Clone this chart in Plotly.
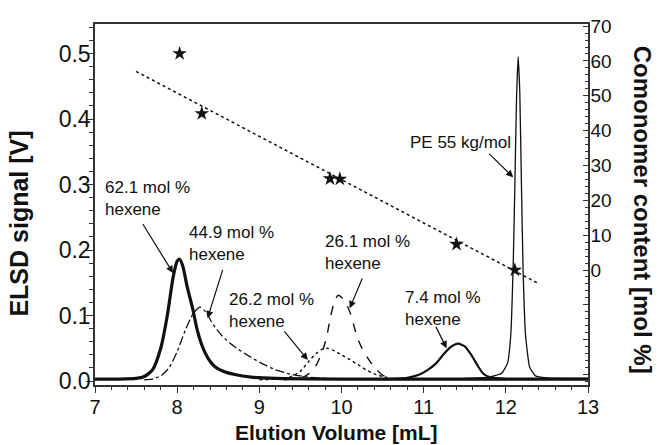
import plotly.graph_objects as go

# ---- data ----
x_621 = [7.0, 7.3, 7.5, 7.6, 7.7, 7.8, 7.88, 7.95, 8.0, 8.03, 8.07, 8.12, 8.19, 8.24, 8.3, 8.38, 8.46, 8.56, 8.7, 8.9, 9.2, 10.0, 11.0, 12.0, 13.0]
y_621 = [0.003, 0.003, 0.004, 0.007, 0.017, 0.05, 0.1, 0.158, 0.183, 0.186, 0.175, 0.145, 0.11, 0.08, 0.055, 0.034, 0.022, 0.015, 0.01, 0.006, 0.004, 0.003, 0.003, 0.003, 0.003]

x_449 = [7.6, 7.7, 7.8, 7.9, 8.0, 8.1, 8.2, 8.28, 8.35, 8.44, 8.54, 8.64, 8.75, 8.85, 9.0, 9.2, 9.4, 9.6, 9.8]
y_449 = [0.002, 0.003, 0.008, 0.02, 0.045, 0.078, 0.104, 0.113, 0.105, 0.086, 0.07, 0.058, 0.048, 0.04, 0.029, 0.017, 0.01, 0.006, 0.004]

x_262 = [9.0, 9.2, 9.37, 9.5, 9.6, 9.7, 9.77, 9.83, 9.9, 10.0, 10.1, 10.2, 10.3, 10.4, 10.5, 10.6]
y_262 = [0.002, 0.003, 0.006, 0.015, 0.03, 0.043, 0.049, 0.05, 0.047, 0.04, 0.033, 0.025, 0.017, 0.011, 0.007, 0.004]

x_261 = [9.3, 9.45, 9.53, 9.6, 9.65, 9.7, 9.74, 9.78, 9.82, 9.87, 9.92, 9.96, 10.0, 10.05, 10.1, 10.15, 10.19, 10.25, 10.31, 10.37, 10.43, 10.5, 10.6]
y_261 = [0.002, 0.004, 0.006, 0.011, 0.017, 0.026, 0.037, 0.05, 0.068, 0.1, 0.124, 0.131, 0.128, 0.12, 0.106, 0.085, 0.067, 0.05, 0.037, 0.026, 0.017, 0.009, 0.004]

x_74 = [10.5, 10.8, 10.95, 11.05, 11.15, 11.25, 11.33, 11.42, 11.5, 11.58, 11.65, 11.72, 11.8, 12.0]
y_74 = [0.003, 0.005, 0.01, 0.017, 0.027, 0.042, 0.052, 0.057, 0.053, 0.04, 0.025, 0.012, 0.006, 0.003]

x_pe = [11.5, 11.8, 11.95, 12.02, 12.06, 12.09, 12.11, 12.13, 12.15, 12.17, 12.19, 12.21, 12.24, 12.29, 12.36, 12.5, 13.0]
y_pe = [0.004, 0.006, 0.012, 0.027, 0.07, 0.18, 0.3, 0.43, 0.495, 0.44, 0.3, 0.17, 0.07, 0.021, 0.008, 0.005, 0.004]

star_x = [8.03, 8.30, 9.86, 9.98, 11.40, 12.11]
star_y = [62.1, 44.9, 26.2, 26.1, 7.4, 0.0]

fit_x = [7.5, 12.4]
fit_y = [57.0, -3.9]

x_ticks = [7, 8, 9, 10, 11, 12, 13]
y_ticks = [0.0, 0.1, 0.2, 0.3, 0.4, 0.5]
y2_ticks = [-30, -20, -10, 0, 10, 20, 30, 40, 50, 60, 70]
y2_labels = ["", "", "", "0", "10", "20", "30", "40", "50", "60", "70"]

FONT = "Liberation Sans, Arial, sans-serif"
BLACK = "#111111"

fig = go.Figure()

fig.add_trace(go.Scatter(x=x_621, y=y_621, mode="lines", line=dict(color=BLACK, width=3.2, shape="spline", smoothing=0.6), showlegend=False))
fig.add_trace(go.Scatter(x=x_449, y=y_449, mode="lines", line=dict(color=BLACK, width=1.3, dash="dashdot", shape="spline", smoothing=0.6), showlegend=False))
fig.add_trace(go.Scatter(x=x_262, y=y_262, mode="lines", line=dict(color=BLACK, width=1.4, dash="dot", shape="spline", smoothing=0.6), showlegend=False))
fig.add_trace(go.Scatter(x=x_261, y=y_261, mode="lines", line=dict(color=BLACK, width=1.4, dash="dash", shape="spline", smoothing=0.6), showlegend=False))
fig.add_trace(go.Scatter(x=x_74, y=y_74, mode="lines", line=dict(color=BLACK, width=2.2, shape="spline", smoothing=0.6), showlegend=False))
fig.add_trace(go.Scatter(x=x_pe, y=y_pe, mode="lines", line=dict(color=BLACK, width=1.3, shape="spline", smoothing=0.4), showlegend=False))

fig.add_trace(go.Scatter(x=fit_x, y=fit_y, mode="lines", yaxis="y2", line=dict(color=BLACK, width=1.5, dash="dot"), showlegend=False))
fig.add_trace(go.Scatter(x=star_x, y=star_y, mode="markers", yaxis="y2", marker=dict(symbol="star", size=11, color=BLACK), showlegend=False))

ann = []
texts = [
    ("62.1 mol %<br>hexene", 7.10, 0.279),
    ("44.9 mol %<br>hexene", 8.12, 0.210),
    ("26.2 mol %<br>hexene", 8.61, 0.108),
    ("26.1 mol %<br>hexene", 9.77, 0.197),
    ("7.4 mol %<br>hexene", 10.75, 0.111),
    ("PE 55 kg/mol", 10.81, 0.364),
]
for t, x, y in texts:
    ann.append(dict(text=t, x=x, y=y, xref="x", yref="y", xanchor="left", yanchor="middle",
                    align="left", showarrow=False, font=dict(family=FONT, size=17, color=BLACK)))
arrows = [
    ((7.57, 0.242), (7.95, 0.165)),
    ((8.56, 0.172), (8.37, 0.096)),
    ((9.29, 0.078), (9.59, 0.032)),
    ((10.26, 0.159), (10.10, 0.111)),
    ((11.14, 0.085), (11.28, 0.050)),
    ((11.78, 0.349), (12.09, 0.311)),
]
for (tx, ty), (hx, hy) in arrows:
    ann.append(dict(text="", x=hx, y=hy, ax=tx, ay=ty, xref="x", yref="y", axref="x", ayref="y",
                    showarrow=True, arrowhead=2, arrowsize=1.2, arrowwidth=1.2, arrowcolor=BLACK))

ann.append(dict(text="<b>ELSD signal [V]</b>", x=-0.155, y=0.446, xref="paper", yref="paper", textangle=-90,
                xanchor="center", yanchor="middle",
                showarrow=False, font=dict(family=FONT, size=25, color=BLACK)))
ann.append(dict(text="<b>Comonomer content [mol %]</b>", x=1.11, y=0.485, xref="paper", yref="paper", textangle=90,
                xanchor="center", yanchor="middle",
                showarrow=False, font=dict(family=FONT, size=24, color=BLACK)))
ann.append(dict(text="<b>Elution Volume [mL]</b>", x=0.489, y=-0.132, xref="paper", yref="paper",
                xanchor="center", yanchor="middle",
                showarrow=False, font=dict(family=FONT, size=21, color=BLACK)))

fig.update_layout(
    width=658, height=445,
    margin=dict(l=95, r=70, t=24, b=60),
    plot_bgcolor="white", paper_bgcolor="white",
    font=dict(family=FONT, size=19, color=BLACK),
    annotations=ann,
    xaxis=dict(range=[7, 13], tickmode="array", tickvals=x_ticks, ticks="outside", ticklen=6, tickwidth=1.3,
               tickcolor="#333", showline=True, linecolor="#333", linewidth=1.5, mirror=True,
               showgrid=False, zeroline=False, tickfont=dict(size=20), ticklabelstandoff=-3,
               minor=dict(dtick=0.2, tick0=7, ticks="outside", ticklen=3, tickcolor="#333", showgrid=False)),
    yaxis=dict(range=[-0.006, 0.545], tickmode="array", tickvals=y_ticks, tickformat=".1f", ticks="outside",
               ticklen=7, tickwidth=1.3, tickcolor="#333", showline=True, linecolor="#333", linewidth=1.5,
               showgrid=False, zeroline=False, tickfont=dict(size=23), ticklabelstandoff=-9,
               minor=dict(dtick=0.02, tick0=0, ticks="outside", ticklen=4, tickcolor="#333", showgrid=False)),
    yaxis2=dict(range=[-33, 70.6], overlaying="y", side="right", tickmode="array", tickvals=y2_ticks,
                ticktext=y2_labels, ticks="inside", ticklen=5, tickwidth=1.3, tickcolor="#333",
                showline=True, linecolor="#333", linewidth=1.5, showgrid=False, zeroline=False,
                tickfont=dict(size=19), ticklabelstandoff=-3,
                minor=dict(dtick=2, tick0=0, ticks="inside", ticklen=3, tickcolor="#333", showgrid=False)),
)

fig.write_html("out.html")
